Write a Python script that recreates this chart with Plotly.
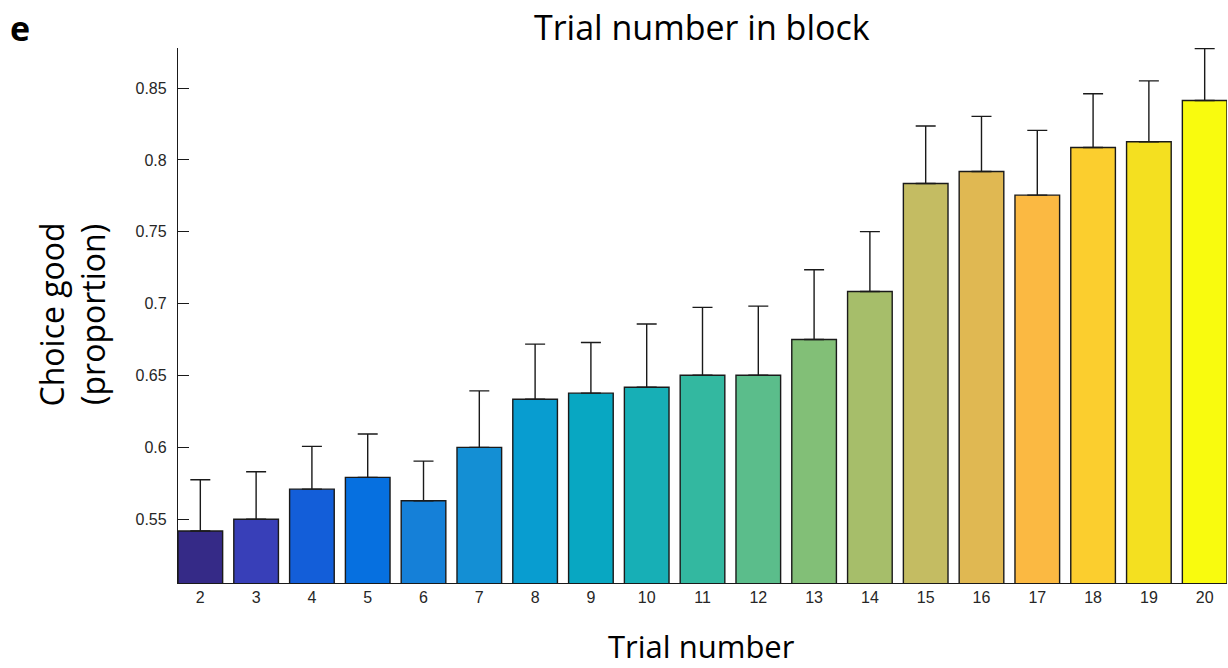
import plotly.graph_objects as go

# Trial positions within a block and the proportion of "good" choices
trials = list(range(2, 21))
choice_good = [0.5418, 0.5500, 0.5709, 0.5791, 0.5628, 0.6000, 0.6335, 0.6377, 0.6418,
               0.6502, 0.6502, 0.6750, 0.7085, 0.7836, 0.7920, 0.7755, 0.8087, 0.8127, 0.8414]
# Upper error (s.e.m.) above each bar
sem_upper = [0.0356, 0.0330, 0.0298, 0.0302, 0.0276, 0.0393, 0.0383, 0.0353, 0.0440,
             0.0472, 0.0481, 0.0486, 0.0416, 0.0400, 0.0383, 0.0451, 0.0374, 0.0423, 0.0361]
bar_colors = ["#352a87", "#383fb8", "#135ed9", "#0670e0", "#1580d8", "#148fd4", "#089dd0",
              "#08a7c2", "#17afb6", "#33b8a0", "#5bbd8b", "#82bf77", "#a6be6a", "#c4bc62",
              "#e0b852", "#fbb942", "#fbce2e", "#f4e020", "#f9fb0e"]
y_ticks = [0.55, 0.6, 0.65, 0.7, 0.75, 0.8, 0.85]
y_tick_text = ["0.55", "0.6", "0.65", "0.7", "0.75", "0.8", "0.85"]

fig = go.Figure(go.Bar(
    x=trials,
    y=choice_good,
    width=0.8,
    marker=dict(color=bar_colors, line=dict(color="#1a1a1a", width=1.4)),
    error_y=dict(type="data", symmetric=False, array=sem_upper,
                 arrayminus=[0] * len(trials), color="#1a1a1a", thickness=1.4, width=10),
))

sans = "Open Sans, Noto Sans, sans-serif"
tick_font = dict(family="Liberation Sans, Arial, sans-serif", size=16, color="#262626")

fig.update_layout(
    width=1228, height=668,
    margin=dict(l=178, r=1, t=48, b=85),
    plot_bgcolor="white", paper_bgcolor="white",
    showlegend=False,
    xaxis=dict(
        range=[1.6, 20.4], tickvals=trials, ticktext=[str(t) for t in trials],
        showline=True, linecolor="#1a1a1a", linewidth=1.3, ticks="", showgrid=False,
        zeroline=False, tickfont=tick_font,
    ),
    yaxis=dict(
        range=[0.5056, 0.8779], tickvals=y_ticks, ticktext=y_tick_text,
        showline=True, linecolor="#1a1a1a", linewidth=1.3, ticks="inside", ticklen=11,
        tickcolor="#1a1a1a", tickwidth=1.2, showgrid=False, zeroline=False,
        tickfont=tick_font, ticklabelstandoff=7,
    ),
    annotations=[
        dict(text="Trial number in block", xref="paper", yref="paper", x=0.4995, y=1.040,
             xanchor="center", yanchor="middle", showarrow=False,
             font=dict(family=sans, size=34, color="#000000")),
        dict(text="Trial number", xref="paper", yref="paper", x=0.4995, y=-0.117,
             xanchor="center", yanchor="middle", showarrow=False,
             font=dict(family=sans, size=31, color="#000000")),
        dict(text="Choice good<br>(proportion)", xref="paper", yref="paper", x=-0.101, y=0.502,
             xanchor="center", yanchor="middle", showarrow=False, textangle=-90,
             font=dict(family=sans, size=32, color="#000000")),
        dict(text="<b>e</b>", xref="paper", yref="paper", x=-0.1506, y=1.037,
             xanchor="center", yanchor="middle", showarrow=False,
             font=dict(family=sans, size=34, color="#000000")),
    ],
)

fig.write_html("out.html")
